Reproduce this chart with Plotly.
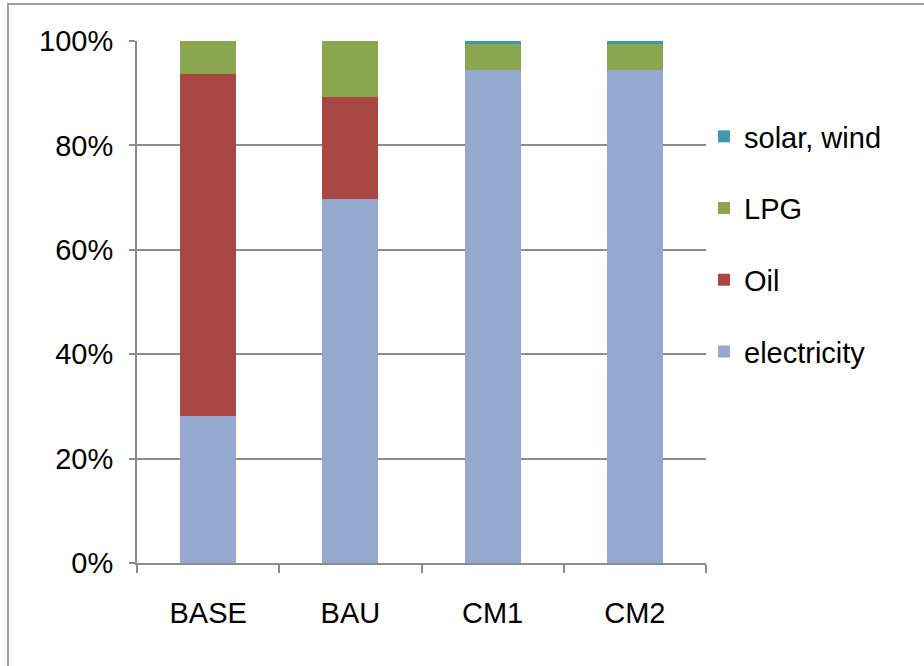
import plotly.graph_objects as go

categories = ["BASE", "BAU", "CM1", "CM2"]
electricity = [28.2, 69.7, 94.4, 94.4]
oil = [65.5, 19.6, 0.0, 0.0]
lpg = [6.3, 10.7, 5.0, 5.0]
solar_wind = [0.0, 0.0, 0.6, 0.6]

series = [
    ("electricity", electricity, "#95A9D0", 4),
    ("Oil", oil, "#A94744", 3),
    ("LPG", lpg, "#8AA64E", 2),
    ("solar, wind", solar_wind, "#3F97B0", 1),
]

FONT = "Liberation Sans, Arial, sans-serif"

fig = go.Figure()
for name, vals, col, rank in series:
    fig.add_trace(go.Bar(
        x=categories, y=vals, name=name, legendgroup=name, legendrank=rank,
        marker=dict(color=col, line=dict(width=0)),
        hoverinfo="x+y+name",
    ))

W, H = 924, 666
L, R, T, B = 137, 218, 41, 103
pw, ph = W - L - R, H - T - B

def px_x(x):
    return (x - L) / pw

def px_y(y):
    return 1 - (y - T) / ph

fig.update_layout(
    width=W, height=H,
    margin=dict(l=L, r=R, t=T, b=B, autoexpand=False),
    barmode="stack", bargap=0.605,
    plot_bgcolor="white", paper_bgcolor="white",
    font=dict(family=FONT, size=29, color="black"),
    showlegend=True,
    legend=dict(
        x=px_x(704), y=px_y(111), xanchor="left", yanchor="top",
        traceorder="grouped", tracegroupgap=31,
        font=dict(family=FONT, size=29, color="black"),
        bgcolor="rgba(0,0,0,0)", itemwidth=30,
    ),
    xaxis=dict(
        type="category", showline=True, linecolor="#8C8C8C", linewidth=2,
        ticks="outside", ticklen=8, tickwidth=2, tickcolor="#8C8C8C",
        tickson="boundaries", showgrid=False, ticklabelstandoff=23,
        tickfont=dict(family=FONT, size=29),
        mirror=False, zeroline=False,
    ),
    yaxis=dict(
        range=[0, 100], tickvals=[0, 20, 40, 60, 80, 100],
        ticktext=["0%", "20%", "40%", "60%", "80%", "100%"],
        showline=True, linecolor="#8C8C8C", linewidth=2,
        ticks="outside", ticklen=6, tickwidth=2, tickcolor="#8C8C8C",
        showgrid=True, gridcolor="#8C8C8C", gridwidth=2,
        zeroline=False, ticklabelstandoff=10,
        tickfont=dict(family=FONT, size=29),
    ),
    shapes=[dict(
        type="rect", xref="paper", yref="paper",
        x0=px_x(8), x1=px_x(960), y0=px_y(700), y1=px_y(4),
        line=dict(color="#A0A0A0", width=2), fillcolor="rgba(0,0,0,0)",
        layer="below",
    )],
)

fig.write_html("out.html", config={"displayModeBar": False},
               post_script="document.body.style.margin='0';")
